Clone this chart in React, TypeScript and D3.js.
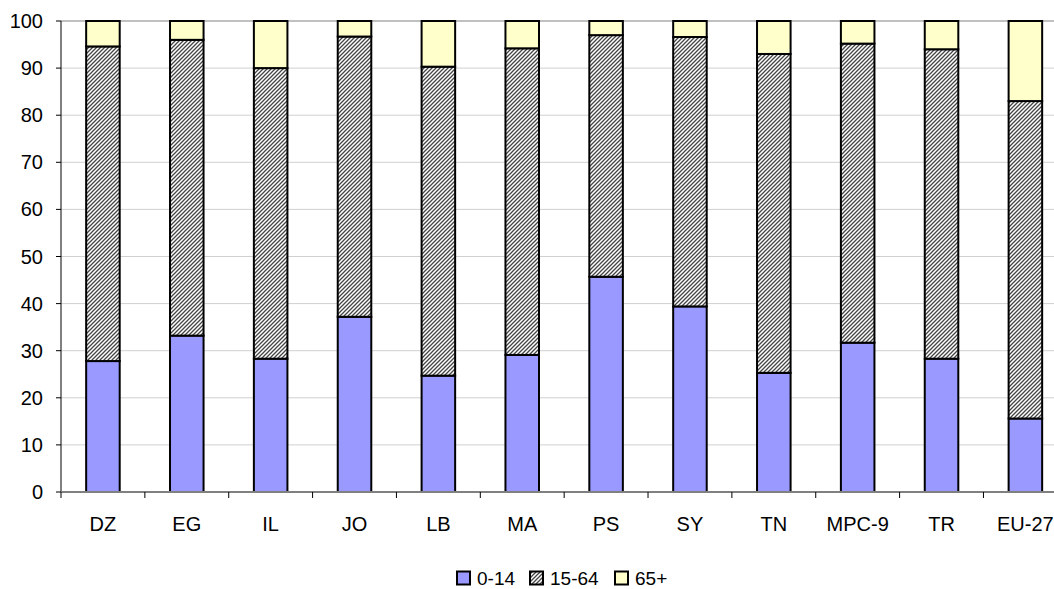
import React from "react";
import * as d3 from "d3";

const categories = ["DZ", "EG", "IL", "JO", "LB", "MA", "PS", "SY", "TN", "MPC-9", "TR", "EU-27"];
const age0to14 = [27.8, 33.2, 28.3, 37.2, 24.7, 29.1, 45.7, 39.4, 25.3, 31.7, 28.3, 15.6];
const age15to64 = [66.8, 62.8, 61.7, 59.5, 65.6, 65.1, 51.3, 57.2, 67.7, 63.5, 65.7, 67.4];
const age65plus = [5.4, 4.0, 10.0, 3.3, 9.7, 5.8, 3.0, 3.4, 7.0, 4.8, 6.0, 17.0];
const seriesNames = ["0-14", "15-64", "65+"];
const yTicks = [0, 10, 20, 30, 40, 50, 60, 70, 80, 90, 100];

const W = 1054;
const H = 589;
const left = 61;
const top = 21;
const bottom = 492;
const bandW = 83.86;
const right = left + bandW * categories.length;
const FONT = "'Liberation Sans', Arial, sans-serif";
const FS = 20;

export default function App() {
  const x = d3.scaleBand<string>().domain(categories).range([left, right]).paddingInner(0.6).paddingOuter(0.3);
  const y = d3.scaleLinear().domain([0, 100]).range([bottom, top]);
  const rows = categories.map((c, i) => ({ cat: c, a: age0to14[i], b: age15to64[i], c: age65plus[i] }));
  const stack = d3.stack<any>().keys(["a", "b", "c"])(rows);
  const fills = ["#9999FF", "url(#hatch)", "#FFFFCC"];
  const bw = x.bandwidth();

  const legendItems = [
    { x: 457, label: seriesNames[0], fill: fills[0] },
    { x: 530, label: seriesNames[1], fill: fills[1] },
    { x: 615, label: seriesNames[2], fill: fills[2] },
  ];

  return (
    <svg width={W} height={H} style={{ position: "absolute", left: 0, top: 0, background: "#fff" }}>
      <defs>
        <pattern id="hatch" patternUnits="userSpaceOnUse" width="4" height="4">
          <rect width="4" height="4" fill="#fff" />
          <path d="M-1,1 l2,-2 M0,4 l4,-4 M3,5 l2,-2" stroke="#444" strokeWidth="1.3" />
        </pattern>
      </defs>
      {yTicks.map((t) => (
        <line key={"g" + t} x1={left} x2={right} y1={y(t)} y2={y(t)}
          stroke={t === 100 ? "#c0c0c0" : "#d0d0d0"} strokeWidth={t === 100 ? 2 : 1} />
      ))}
      {stack.map((s, si) =>
        s.map((d, i) => (
          <rect key={si + "-" + i} x={x(categories[i])!} y={y(d[1])} width={bw} height={y(d[0]) - y(d[1])}
            fill={fills[si]} stroke="#000" strokeWidth={2} />
        ))
      )}
      <line x1={left} x2={left} y1={top} y2={bottom} stroke="#000" strokeWidth={1} />
      <line x1={left} x2={right} y1={bottom} y2={bottom} stroke="#808080" strokeWidth={2} />
      {yTicks.map((t) => (
        <g key={"t" + t}>
          <line x1={left - 5} x2={left} y1={y(t)} y2={y(t)} stroke="#000" />
          <text x={43} y={y(t)} dy="0.35em" textAnchor="end" fontFamily={FONT} fontSize={FS} fill="#000">{t}</text>
        </g>
      ))}
      {categories.map((c, i) => (
        <g key={"x" + c}>
          <line x1={left + bandW * i} x2={left + bandW * i} y1={bottom} y2={bottom + 6} stroke="#000" />
          <text x={x(c)! + bw / 2} y={524} dy="0.35em" textAnchor="middle" fontFamily={FONT} fontSize={FS} fill="#000">{c}</text>
        </g>
      ))}
      {legendItems.map((l) => (
        <g key={l.label}>
          <rect x={l.x} y={571.5} width={13} height={13} fill={l.fill} stroke="#000" strokeWidth={2} />
          <text x={l.x + 20} y={585} fontFamily={FONT} fontSize={19} fill="#000">{l.label}</text>
        </g>
      ))}
    </svg>
  );
}
